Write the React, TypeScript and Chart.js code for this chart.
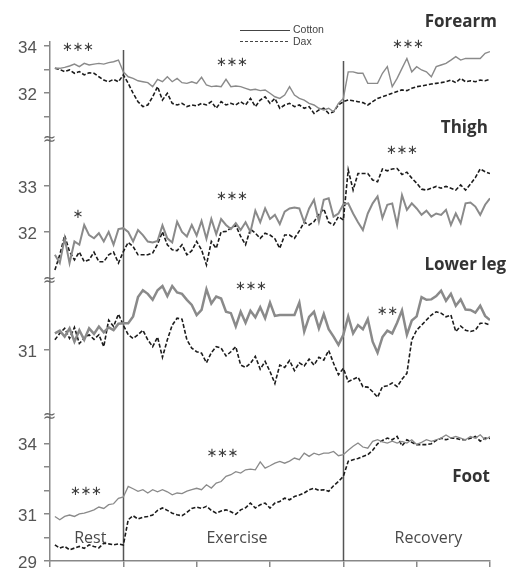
import React, { useEffect, useRef } from "react";
import { Chart, registerables } from "chart.js";
Chart.register(...registerables);

// sampling grid (minutes): one sample every 40 s, 0.67 … 60 min
const sampleTimes = Array.from({ length: 90 }, (_, k) => ((k + 1) * 2) / 3);
const phaseBounds = [10, 40];
const phaseNames = ["Rest", "Exercise", "Recovery"];
const xTickValues = [0, 10, 20, 30, 40, 50, 60];

// Forearm (°C)
const forearmCotton = [
  33.05, 33.05, 33.09, 33.15, 33.23, 33.12, 33.26, 33.19, 33.23, 33.26, 33.23, 33.29, 33.33, 33.4, 32.9,
  32.69, 32.62, 32.52, 32.48, 32.44, 32.27, 32.58, 32.48, 32.69, 32.48, 32.62, 32.44, 32.41, 32.48, 32.41,
  32.67, 32.34, 32.27, 32.3, 32.27, 32.58, 32.27, 32.3, 32.27, 32.2, 32.13, 32.16, 32.1, 32.13, 31.99,
  31.84, 31.77, 31.91, 32.27, 31.91, 31.77, 31.7, 31.56, 31.49, 31.35, 31.28, 31.35, 31.2, 31.56, 31.77,
  32.9, 32.9, 32.84, 32.84, 32.41, 32.41, 32.41, 32.84, 33.12, 32.27, 32.62, 33.05, 33.47, 32.9, 33.12,
  32.98, 32.9, 32.69, 33.12, 33.19, 33.26, 33.4, 33.55, 33.4, 33.47, 33.47, 33.47, 33.47, 33.69, 33.76,
];
const forearmDax = [
  33.05, 33.0, 32.91, 32.98, 32.84, 32.91, 32.77, 32.86, 32.84, 32.69, 32.55, 32.48, 32.58, 32.48, 32.77,
  32.41, 31.99, 31.63, 31.42, 31.49, 31.84, 32.27, 31.7, 31.99, 31.56, 31.49, 31.56, 31.42, 31.49, 31.45,
  31.56, 31.49, 31.63, 31.35, 31.63, 31.49, 31.56, 31.49, 31.63, 31.49, 31.77, 31.42, 31.7, 31.84, 31.56,
  31.77, 31.35, 31.49, 31.56, 31.42, 31.49, 31.35, 31.42, 31.13, 31.28, 31.35, 31.13, 31.2, 31.49, 31.63,
  31.7, 31.67, 31.63, 31.59, 31.49, 31.63, 31.77, 31.84, 31.91, 31.99, 32.06, 32.13, 32.1, 32.2, 32.27,
  32.3, 32.34, 32.38, 32.41, 32.44, 32.48, 32.55, 32.44, 32.62, 32.48, 32.52, 32.48, 32.55, 32.52, 32.58,
];

// Thigh (°C)
const thighCotton = [
  31.5, 31.32, 31.86, 31.32, 31.79, 31.72, 32.15, 31.93, 31.86, 31.97, 31.79, 32.0, 31.72, 32.06, 32.08,
  32.0, 31.79, 32.04, 31.93, 31.79, 31.77, 31.8, 32.14, 31.86, 31.77, 32.22, 32.0, 31.9, 32.15, 31.92,
  32.24, 31.85, 32.28, 31.95, 32.28, 32.15, 32.06, 32.19, 32.04, 32.21, 32.0, 32.46, 32.21, 32.51, 32.28,
  32.37, 32.17, 32.44, 32.51, 32.53, 32.51, 32.21, 32.51, 32.7, 32.22, 32.7, 32.73, 32.33, 32.4, 32.6,
  32.62, 32.4, 32.21, 32.04, 32.4, 32.62, 32.77, 32.3, 32.59, 32.62, 32.15, 32.8, 32.48, 32.62, 32.51,
  32.37, 32.46, 32.33, 32.4, 32.37, 32.48, 32.15, 32.4, 32.19, 32.62, 32.64, 32.55, 32.37, 32.59, 32.73,
];
const thighDax = [
  31.17, 31.5, 31.92, 31.57, 31.39, 31.56, 31.35, 31.39, 31.56, 31.35, 31.35, 31.5, 31.56, 31.32, 31.57,
  31.77, 31.68, 31.5, 31.5, 31.5, 31.54, 31.73, 32.0, 31.72, 31.61, 31.59, 31.72, 31.5, 31.59, 31.79,
  31.61, 31.28, 31.79, 31.64, 32.0, 32.01, 32.08, 32.14, 31.9, 31.72, 32.06, 31.97, 31.86, 31.97, 31.93,
  31.85, 31.64, 31.93, 31.93, 31.86, 32.02, 32.21, 32.15, 32.22, 32.38, 32.5, 32.21, 32.15, 32.33, 32.26,
  33.35, 32.91, 33.27, 33.27, 33.27, 33.13, 33.09, 33.37, 33.33, 33.37, 33.38, 33.25, 33.3, 33.17, 33.06,
  32.93, 32.91, 32.95, 32.99, 32.95, 32.99, 32.95, 32.91, 33.02, 32.91, 33.04, 33.18, 33.37, 33.31, 33.27,
];

// Lower leg (°C)
const lowerLegCotton = [
  31.36, 31.42, 31.29, 31.47, 31.18, 31.43, 31.22, 31.47, 31.35, 31.51, 31.38, 31.49, 31.43, 31.57, 31.58,
  31.58, 31.73, 32.15, 32.3, 32.22, 32.09, 32.3, 32.39, 32.17, 32.39, 32.25, 32.22, 32.09, 31.98, 31.76,
  31.87, 32.32, 32.01, 32.16, 32.12, 31.83, 31.8, 31.51, 31.83, 31.59, 31.85, 31.71, 31.93, 31.69, 32.03,
  31.74, 31.76, 31.76, 31.76, 31.76, 32.03, 31.4, 31.72, 31.83, 31.47, 31.78, 31.45, 31.29, 31.11, 31.33,
  31.73, 31.36, 31.54, 31.45, 31.67, 31.18, 30.94, 31.28, 31.42, 31.36, 31.59, 31.86, 31.33, 31.64, 31.73,
  32.15, 32.09, 32.1, 32.17, 32.29, 32.07, 32.22, 31.96, 32.1, 31.88, 31.87, 31.81, 31.96, 31.74, 31.65,
];
const lowerLegDax = [
  31.22, 31.36, 31.47, 31.25, 31.49, 31.14, 31.25, 31.33, 31.23, 31.33, 31.07, 31.65, 31.51, 31.78, 31.54,
  31.33, 31.25, 31.33, 31.43, 31.22, 31.07, 31.28, 30.84, 31.22, 31.54, 31.69, 31.67, 31.22, 31.04, 30.96,
  30.93, 30.72, 30.94, 31.07, 31.04, 30.87, 30.96, 31.07, 30.67, 30.62, 30.71, 30.86, 30.58, 30.75, 30.53,
  30.27, 30.67, 30.62, 30.77, 30.55, 30.72, 30.65, 30.8, 30.67, 30.84, 30.78, 30.99, 30.71, 30.46, 30.6,
  30.31, 30.36, 30.41, 30.2, 30.19, 30.09, 29.97, 30.2, 30.22, 30.28, 30.2, 30.36, 30.49, 31.22, 31.43,
  31.54, 31.65, 31.76, 31.83, 31.8, 31.72, 31.76, 31.4, 31.52, 31.43, 31.4, 31.43, 31.58, 31.58, 31.54,
];

// Foot (°C)
const footCotton = [
  30.9, 30.76, 30.9, 30.96, 30.9, 31.01, 31.04, 31.11, 31.18, 31.3, 31.24, 31.4, 31.44, 31.67, 31.73,
  32.18, 32.08, 31.97, 32.04, 31.9, 32.04, 31.95, 32.04, 31.95, 31.82, 31.9, 31.87, 31.98, 32.04, 32.1,
  32.04, 32.25, 32.11, 32.32, 32.39, 32.61, 32.68, 32.81, 32.75, 32.89, 32.92, 32.89, 33.23, 32.96, 33.06,
  33.17, 33.25, 33.17, 33.26, 33.39, 33.32, 33.6, 33.46, 33.6, 33.53, 33.6, 33.6, 33.67, 33.49, 33.53,
  33.72, 33.89, 34.03, 33.86, 33.81, 34.1, 34.17, 34.08, 34.03, 34.11, 34.03, 34.1, 34.03, 34.17, 33.97,
  34.06, 34.17, 34.1, 34.17, 34.24, 34.37, 34.24, 34.31, 34.24, 34.17, 34.31, 34.23, 34.38, 34.17, 34.31,
];
const footDax = [
  29.69, 29.55, 29.62, 29.48, 29.55, 29.62, 29.54, 29.69, 29.62, 29.56, 29.76, 29.73, 29.69, 29.73, 29.68,
  30.76, 30.93, 30.79, 30.87, 30.9, 30.96, 31.16, 31.26, 31.16, 31.04, 30.97, 30.93, 31.07, 31.24, 31.3,
  31.24, 31.33, 31.16, 31.04, 31.13, 31.18, 31.1, 30.99, 31.18, 31.27, 31.47, 31.26, 31.4, 31.47, 31.26,
  31.47, 31.54, 31.68, 31.61, 31.75, 31.81, 31.9, 32.04, 32.1, 32.01, 32.04, 31.97, 32.21, 32.39, 32.61,
  33.25, 33.32, 33.37, 33.46, 33.53, 33.72, 34.0, 34.14, 34.24, 34.17, 34.31, 33.91, 34.17, 34.06, 33.96,
  33.96, 33.96, 34.0, 34.14, 34.23, 34.17, 34.24, 34.23, 34.17, 34.17, 34.23, 34.31, 34.11, 34.24, 34.23,
];

// y tick values and which of them carry a label
const forearmTicks = [31, 32, 33, 34];
const forearmLabels = [32, 34];
const thighTicks = [32, 33];
const thighLabels = [32, 33];
const lowerLegTicks = [31];
const lowerLegLabels = [31];
const footTicks = [29, 30, 31, 32, 33, 34];
const footLabels = [29, 31, 34];

const panels = [
  { id: "yForearm", title: "Forearm", cotton: forearmCotton, dax: forearmDax, ticks: forearmTicks, labels: forearmLabels,
    min: 30.0, max: 34.17, weight: 98, order: 4, cottonWidth: 1.4, titleT: 60.95, titleV: 35.02 },
  { id: "yThigh", title: "Thigh", cotton: thighCotton, dax: thighDax, ticks: thighTicks, labels: thighLabels,
    min: 30.93, max: 34.0, weight: 141, order: 3, cottonWidth: 2, titleT: 59.7, titleV: 34.26 },
  { id: "yLowerLeg", title: "Lower leg", cotton: lowerLegCotton, dax: lowerLegDax, ticks: lowerLegTicks, labels: lowerLegLabels,
    min: 29.54, max: 32.5, weight: 136, order: 2, cottonWidth: 2.5, titleT: 62.2, titleV: 32.85 },
  { id: "yFoot", title: "Foot", cotton: footCotton, dax: footDax, ticks: footTicks, labels: footLabels,
    min: 29.0, max: 35.14, weight: 144, order: 1, cottonWidth: 1.3, titleT: 60.0, titleV: 32.59 },
];

const significance = [
  { axis: "yForearm", t: 3.8, v: 33.91, text: "***" },
  { axis: "yForearm", t: 24.8, v: 33.28, text: "***" },
  { axis: "yForearm", t: 48.8, v: 34.04, text: "***" },
  { axis: "yThigh", t: 3.8, v: 32.37, text: "*" },
  { axis: "yThigh", t: 24.8, v: 32.76, text: "***" },
  { axis: "yThigh", t: 48.0, v: 33.76, text: "***" },
  { axis: "yLowerLeg", t: 27.4, v: 32.37, text: "***" },
  { axis: "yLowerLeg", t: 46.0, v: 31.83, text: "**" },
  { axis: "yFoot", t: 4.9, v: 31.95, text: "***" },
  { axis: "yFoot", t: 23.5, v: 33.57, text: "***" },
];

const phaseLabelT = [5.5, 25.5, 51.6];
const phaseLabelV = 29.95;
const boundaryStartV = [33.83, 33.36];

const overlay = {
  id: "overlay",
  beforeDatasetsDraw(chart: any) {
    const { ctx, scales, chartArea } = chart;
    ctx.save();
    ctx.strokeStyle = "#555";
    ctx.lineWidth = 1.5;
    phaseBounds.forEach((b, k) => {
      const px = Math.round(scales.x.getPixelForValue(b)) + 0.5;
      ctx.beginPath();
      ctx.moveTo(px, scales.yForearm.getPixelForValue(boundaryStartV[k]));
      ctx.lineTo(px, chartArea.bottom);
      ctx.stroke();
    });
    ctx.restore();
  },
  afterDraw(chart: any) {
    const { ctx, scales } = chart;
    const x = scales.x;
    ctx.save();
    // break marks
    ctx.fillStyle = "#666";
    ctx.font = "16px 'DejaVu Sans'";
    ctx.textAlign = "center";
    ctx.textBaseline = "middle";
    ["yThigh", "yLowerLeg", "yFoot"].forEach((id) => {
      ctx.fillText("≈", scales[id].left + scales[id].width - 0.5, scales[id].top);
    });
    // titles
    ctx.fillStyle = "#333";
    ctx.font = "bold 17px 'Open Sans'";
    ctx.textAlign = "right";
    panels.forEach((p) => {
      ctx.fillText(p.title, x.getPixelForValue(p.titleT), scales[p.id].getPixelForValue(p.titleV));
    });
    // significance marks
    ctx.fillStyle = "#3a3a3a";
    ctx.font = "13px 'DejaVu Sans'";
    ctx.textAlign = "center";
    significance.forEach((s) => {
      const cx = x.getPixelForValue(s.t);
      const cy = scales[s.axis].getPixelForValue(s.v);
      const n = s.text.length;
      for (let k = 0; k < n; k++) {
        ctx.fillText("∗", cx + (k - (n - 1) / 2) * 10.5, cy);
      }
    });
    // phase names
    ctx.fillStyle = "#4a4a4a";
    ctx.font = "16px 'Open Sans'";
    phaseNames.forEach((name, k) => {
      ctx.fillText(name, x.getPixelForValue(phaseLabelT[k]), scales.yFoot.getPixelForValue(phaseLabelV));
    });
    // legend
    ctx.strokeStyle = "#444";
    ctx.lineWidth = 1;
    ctx.beginPath();
    ctx.moveTo(240, 30.5);
    ctx.lineTo(290, 30.5);
    ctx.stroke();
    ctx.setLineDash([3, 2]);
    ctx.beginPath();
    ctx.moveTo(240, 41.5);
    ctx.lineTo(290, 41.5);
    ctx.stroke();
    ctx.setLineDash([]);
    ctx.fillStyle = "#444";
    ctx.font = "10.5px 'Liberation Sans'";
    ctx.textAlign = "left";
    ctx.fillText("Cotton", 293, 30);
    ctx.fillText("Dax", 293, 42);
    ctx.restore();
  },
};

export default function App() {
  const ref = useRef<HTMLCanvasElement>(null);
  useEffect(() => {
    const datasets: any[] = [];
    panels.forEach((p) => {
      datasets.push({
        label: "Cotton",
        data: p.cotton.map((v, k) => ({ x: sampleTimes[k], y: v })),
        yAxisID: p.id,
        borderColor: "#8a8a8a",
        borderWidth: p.cottonWidth,
        pointRadius: 0,
        tension: 0,
      });
      datasets.push({
        label: "Dax",
        data: p.dax.map((v, k) => ({ x: sampleTimes[k], y: v })),
        yAxisID: p.id,
        borderColor: "#1c1c1c",
        borderWidth: 1.6,
        borderDash: [4, 2],
        pointRadius: 0,
        tension: 0,
      });
    });
    const scales: any = {
      x: {
        type: "linear",
        position: "bottom",
        min: 0,
        max: 60,
        afterBuildTicks: (s: any) => {
          s.ticks = xTickValues.map((v) => ({ value: v }));
        },
        afterFit: (s: any) => {
          s.height = 8;
          s.paddingLeft = 0;
          s.paddingRight = 0;
        },
        ticks: { callback: () => "", padding: 0, autoSkip: false },
        grid: { drawOnChartArea: false, drawTicks: true, tickLength: 6, color: "#888", lineWidth: 1.5 },
        border: { color: "#888", width: 1.5 },
      },
    };
    panels.forEach((p) => {
      scales[p.id] = {
        type: "linear",
        position: "left",
        stack: "panels",
        stackWeight: p.weight,
        weight: p.order,
        min: p.min,
        max: p.max,
        afterBuildTicks: (s: any) => {
          s.ticks = p.ticks.map((v) => ({ value: v }));
        },
        afterFit: (s: any) => {
          s.width = 50;
          s.paddingTop = 0;
          s.paddingBottom = 0;
        },
        ticks: {
          callback: (v: any) => (p.labels.includes(Number(v)) ? String(v) : ""),
          color: "#555",
          font: { family: "'Liberation Sans'", size: 17 },
          padding: 7,
          labelOffset: 2,
          autoSkip: false,
        },
        grid: { drawOnChartArea: false, drawTicks: true, tickLength: 6, color: "#888", lineWidth: 1.5 },
        border: { color: "#888", width: 1.5 },
      };
    });
    const chart = new Chart(ref.current as HTMLCanvasElement, {
      type: "line",
      data: { datasets },
      options: {
        responsive: false,
        animation: false,
        layout: { padding: { top: 42, right: 24, bottom: 0, left: 0 } },
        plugins: { legend: { display: false }, tooltip: { enabled: false } },
        scales,
      },
      plugins: [overlay],
    } as any);
    return () => chart.destroy();
  }, []);
  return (
    <div style={{ position: "absolute", left: 0, top: 0, width: 514, height: 569, background: "#fff" }}>
      <canvas ref={ref} width={514} height={569} style={{ display: "block" }} />
    </div>
  );
}
